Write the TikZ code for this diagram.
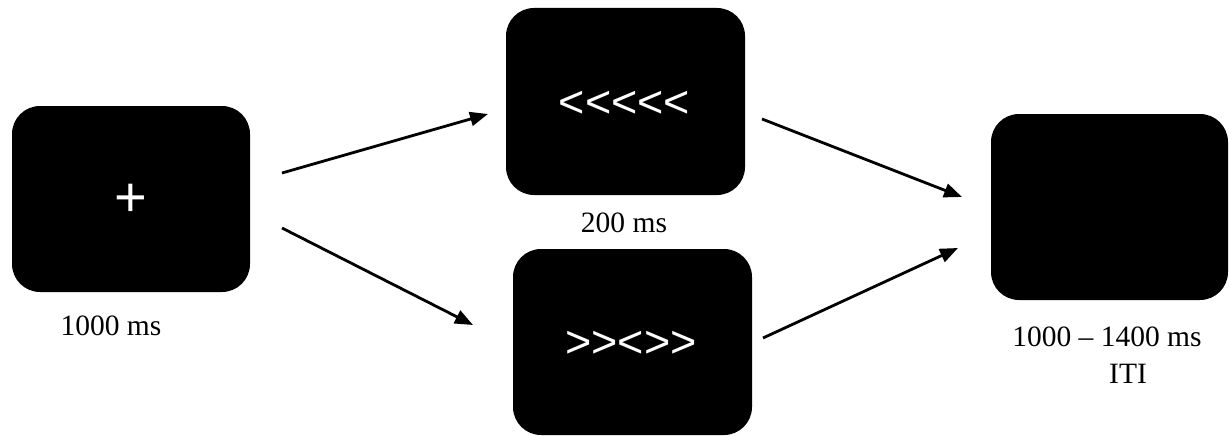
\documentclass[tikz,border=0pt]{standalone}
\usepackage{fontspec}
\setmainfont{Liberation Serif}
\newfontfamily\stimfont{Liberation Sans}
\usetikzlibrary{arrows.meta}
\begin{document}
\begin{tikzpicture}[x=1pt,y=-1pt,
  screen/.style={fill=black,draw=none,rounded corners=28pt,inner sep=0pt,anchor=center},
  stim/.style={text=white,inner sep=0pt,anchor=center,font=\stimfont\fontsize{45}{54}\selectfont},
  dur/.style={inner sep=0pt,anchor=base,font=\fontsize{29.5}{34}\selectfont},
  flow/.style={line width=2.8pt,-{Triangle[length=18pt,width=14pt]}}]
\useasboundingbox (0,0) rectangle (1229,436);
% screens
\node[screen,minimum width=238pt,minimum height=186pt] (fix) at (131,199) {};
\node[screen,minimum width=239pt,minimum height=187pt] (cong) at (625.5,101.5) {};
\node[screen,minimum width=239pt,minimum height=186pt] (incong) at (632.5,342) {};
\node[screen,minimum width=237pt,minimum height=186pt] (iti) at (1109.5,207) {};
% stimuli
\node[stim,font=\stimfont\fontsize{56}{60}\selectfont] (plus) at (131,200) {+};
\node[stim] (arrowsC) at (624.5,104) {<<<<<};
\node[stim] (arrowsI) at (631,344) {>><>>};
% durations
\node[dur] (d1) at (111,335) {1000 ms};
\node[dur] (d2) at (624,232) {200 ms};
\node[dur] (d3) at (1107,346) {1000 -- 1400 ms};
\node[dur] (d4) at (1128,383) {ITI};
% connector ends
\coordinate (a1s) at (282,173);
\coordinate (a1e) at (488,114);
\coordinate (a2s) at (282,228);
\coordinate (a2e) at (473,325);
\coordinate (a3s) at (762,119);
\coordinate (a3e) at (962,197);
\coordinate (a4s) at (763,338);
\coordinate (a4e) at (958,248);
\draw[flow] (a1s) -- (a1e);
\draw[flow] (a2s) -- (a2e);
\draw[flow] (a3s) -- (a3e);
\draw[flow] (a4s) -- (a4e);
\end{tikzpicture}
\end{document}
